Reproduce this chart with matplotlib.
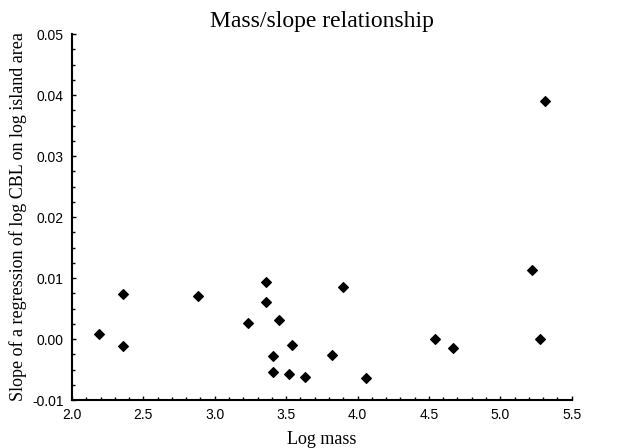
import matplotlib.pyplot as plt
from matplotlib.ticker import MultipleLocator, FormatStrFormatter

# log mass vs slope of log CBL on log island area
log_mass = [2.19, 2.36, 2.36, 2.88, 3.23, 3.36, 3.36, 3.45, 3.41, 3.41, 3.54,
            3.52, 3.63, 3.82, 3.90, 4.06, 4.54, 4.67, 5.22, 5.28, 5.31]
slope = [0.0009, 0.0074, -0.0012, 0.0070, 0.0027, 0.0094, 0.0060, 0.0031, -0.0028,
         -0.0054, -0.0010, -0.0058, -0.0062, -0.0026, 0.0086, -0.0064, 0.0000,
         -0.0015, 0.0114, 0.0000, 0.0390]

fig = plt.figure(figsize=(6.27, 4.48), dpi=100)
ax = fig.add_axes([0.1148, 0.107, 0.797, 0.817])

ax.scatter(log_mass, slope, marker="D", s=24, color="black", zorder=3)

ax.set_xlim(2.0, 5.5)
ax.set_ylim(-0.01, 0.05)
ax.xaxis.set_major_locator(MultipleLocator(0.5))
ax.xaxis.set_minor_locator(MultipleLocator(0.1))
ax.yaxis.set_major_locator(MultipleLocator(0.01))
ax.yaxis.set_minor_locator(MultipleLocator(0.0025))
ax.xaxis.set_major_formatter(FormatStrFormatter("%.1f"))
ax.yaxis.set_major_formatter(FormatStrFormatter("%.2f"))

ax.spines["top"].set_visible(False)
ax.spines["right"].set_visible(False)
for sp in ("left", "bottom"):
    ax.spines[sp].set_linewidth(1.5)

ax.tick_params(which="both", direction="in", width=1, color="black",
               labelsize=10, pad=6)
ax.tick_params(which="major", length=3)
ax.tick_params(which="minor", length=2)
for lab in ax.get_xticklabels() + ax.get_yticklabels():
    lab.set_fontfamily("Liberation Sans")

serif = "Liberation Serif"
ax.set_title("Mass/slope relationship", fontsize=17, family=serif, pad=5)
ax.set_xlabel("Log mass", fontsize=13, family=serif, labelpad=6)
ax.set_ylabel("Slope of a regression of log CBL on log island area",
              fontsize=13, family=serif, labelpad=4)

fig.savefig("out.png", dpi=100)
